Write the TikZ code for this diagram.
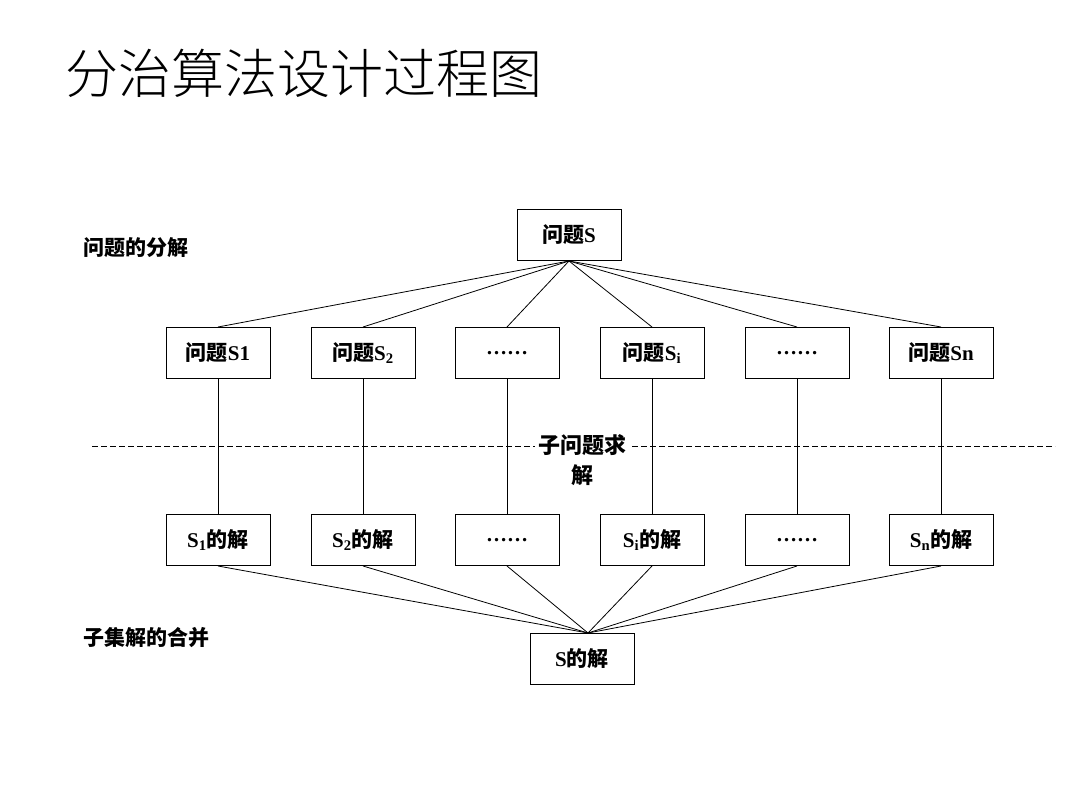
\documentclass[tikz,border=0pt]{standalone}
\usepackage{fontspec}
\setmainfont{Liberation Serif}
\newfontfamily\cjk{Noto Sans CJK SC}
\newfontfamily\cjkl{Noto Sans CJK SC Light}
\newcommand{\sbb}[1]{\textsubscript{\bfseries #1}}
\begin{document}
\begin{tikzpicture}[x=1pt,y=-1pt,
  bx/.style={draw,line width=1pt,minimum width=104pt,minimum height=51pt,inner sep=0pt,font=\fontsize{21}{24}\selectfont\bfseries},
  ln/.style={line width=0.8pt},
  lab/.style={anchor=west,font=\cjk\bfseries\fontsize{21}{24}\selectfont}]
\useasboundingbox (0,0) rectangle (1080,810);
\node[anchor=west,font=\cjkl\fontsize{53}{60}\selectfont] (title) at (62,73) {分治算法设计过程图};
\node[lab] (l1) at (80,248) {问题的分解};
\node[lab] (l2) at (80,638) {子集解的合并};
\draw[dash pattern=on 6pt off 3pt,ln] (92,446) -- (1055,446);
\node[bx] (top) at (569,235) {{\cjk 问题}S};
\node[bx] (a1) at (218,353) {{\cjk 问题}S1};
\node[bx] (a2) at (363,353) {{\cjk 问题}S\sbb{2}};
\node[bx] (a3) at (507,353) {……};
\node[bx] (a4) at (652,353) {{\cjk 问题}S\sbb{i}};
\node[bx] (a5) at (797,353) {……};
\node[bx] (a6) at (941,353) {{\cjk 问题}Sn};
\node[bx] (b1) at (218,540) {S\sbb{1}{\cjk 的解}};
\node[bx] (b2) at (363,540) {S\sbb{2}{\cjk 的解}};
\node[bx] (b3) at (507,540) {……};
\node[bx] (b4) at (652,540) {S\sbb{i}{\cjk 的解}};
\node[bx] (b5) at (797,540) {……};
\node[bx] (b6) at (941,540) {S\sbb{n}{\cjk 的解}};
\node[bx] (bot) at (582,659) {S{\cjk 的解}};
\coordinate (j) at (588,633);
\foreach \i in {1,...,6}{
  \draw[ln] (top.south) -- (a\i.north);
  \draw[ln] (a\i.south) -- (b\i.north);
  \draw[ln] (b\i.south) -- (j);
}
\node[fill=white,align=center,inner sep=3pt,font=\cjk\bfseries\fontsize{22}{30}\selectfont] (mid) at (582,460) {子问题求\\解};
\end{tikzpicture}
\end{document}
